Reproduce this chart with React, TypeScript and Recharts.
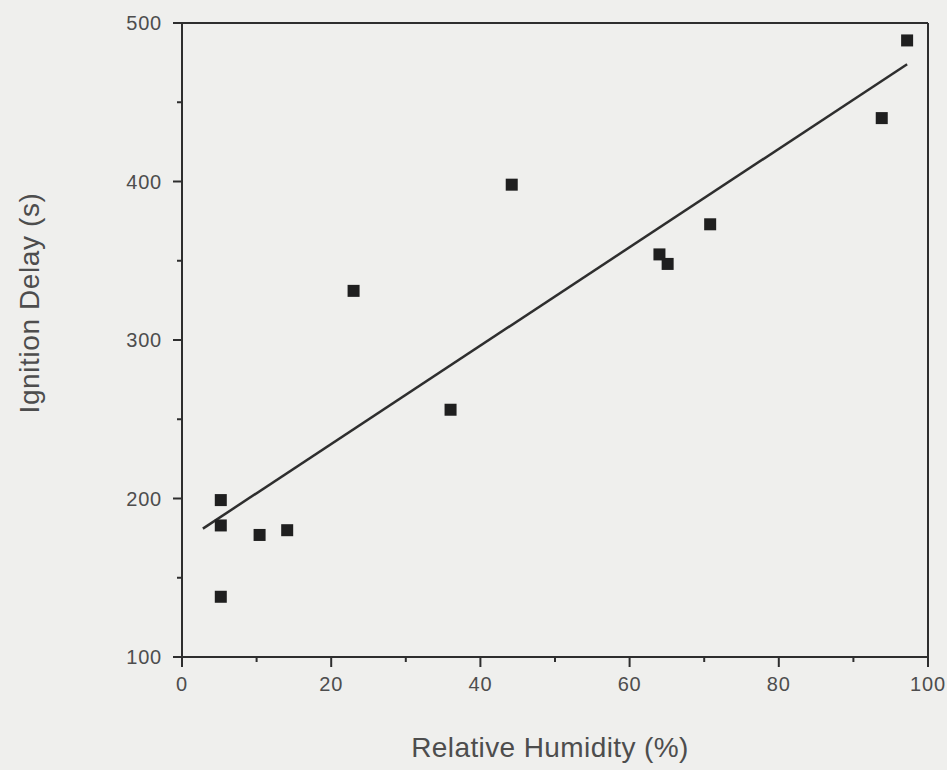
import { ComposedChart, Scatter, XAxis, YAxis, Label, ReferenceLine } from "recharts";

// measured points: relative humidity (%) vs ignition delay (s)
const humidity = [5.2, 5.2, 5.2, 10.4, 14.1, 23.0, 36.0, 44.2, 64.0, 65.1, 70.8, 93.8, 97.2];
const delay = [199, 183, 138, 177, 180, 331, 256, 398, 354, 348, 373, 440, 489];

// fitted line end points
const fitX = [2.8, 97.2];
const fitY = [181, 474];

const xTicks = [0, 10, 20, 30, 40, 50, 60, 70, 80, 90, 100];
const yTicks = [100, 150, 200, 250, 300, 350, 400, 450, 500];

const points = humidity.map((x, i) => ({ x, y: delay[i] }));
const fit = fitX.map((x, i) => ({ x, y: fitY[i] }));

const ink = "#2e2e2e";
const textColor = "#4d4d4d";
const font = "'Liberation Sans', Arial, sans-serif";

const XTick = (props: any) => {
    const { x, y, payload } = props;
    const major = payload.value % 20 === 0;
    return (
        <g>
            <line x1={x} x2={x} y1={y} y2={y + (major ? 10 : 5)} stroke={ink} strokeWidth={2} />
            {major && (
                <text x={x} y={y + 34} textAnchor="middle" fill={textColor} fontSize={20} letterSpacing={0.8} fontFamily={font}>
                    {payload.value}
                </text>
            )}
        </g>
    );
};

const YTick = (props: any) => {
    const { x, y, payload } = props;
    const major = payload.value % 100 === 0;
    return (
        <g>
            <line x1={x - (major ? 9 : 5)} x2={x} y1={y} y2={y} stroke={ink} strokeWidth={2} />
            {major && (
                <text x={x - 20} y={y + 7} textAnchor="end" fill={textColor} fontSize={20} letterSpacing={0.8} fontFamily={font}>
                    {payload.value}
                </text>
            )}
        </g>
    );
};

const Square = (props: any) => {
    const { cx, cy } = props;
    if (cx == null || cy == null) return null;
    return <rect x={cx - 6} y={cy - 6} width={12} height={12} fill="#1f1f1f" />;
};

export default function App() {
    return (
        <div style={{ position: "absolute", left: 0, top: 0, width: 947, height: 770, background: "#efefed" }}>
            <ComposedChart width={947} height={770} margin={{ top: 23, right: 19, bottom: 0, left: 0 }}>
                <XAxis
                    type="number"
                    dataKey="x"
                    domain={[0, 100]}
                    ticks={xTicks}
                    height={113}
                    tickSize={0}
                    tickMargin={0}
                    tickLine={false}
                    tick={<XTick />}
                    axisLine={{ stroke: ink, strokeWidth: 2 }}
                    allowDataOverflow
                >
                    <Label
                        content={() => (
                            <text x={550} y={757} textAnchor="middle" fill={textColor} fontSize={28} letterSpacing={0.4} fontFamily={font}>
                                Relative Humidity (%)
                            </text>
                        )}
                    />
                </XAxis>
                <YAxis
                    type="number"
                    dataKey="y"
                    domain={[100, 500]}
                    ticks={yTicks}
                    width={182}
                    tickSize={0}
                    tickMargin={0}
                    tickLine={false}
                    tick={<YTick />}
                    axisLine={{ stroke: ink, strokeWidth: 2 }}
                    allowDataOverflow
                >
                    <Label
                        content={() => (
                            <text
                                transform="translate(39,303) rotate(-90)"
                                textAnchor="middle"
                                fill={textColor}
                                fontSize={28}
                                letterSpacing={0.6}
                                fontFamily={font}
                            >
                                Ignition Delay (s)
                            </text>
                        )}
                    />
                </YAxis>
                <ReferenceLine y={500} stroke={ink} strokeWidth={2} ifOverflow="visible" />
                <ReferenceLine x={100} stroke={ink} strokeWidth={2} ifOverflow="visible" />
                <Scatter data={fit} line={{ stroke: ink, strokeWidth: 2.5 }} shape={() => null} isAnimationActive={false} />
                <Scatter data={points} shape={<Square />} isAnimationActive={false} />
            </ComposedChart>
        </div>
    );
}
